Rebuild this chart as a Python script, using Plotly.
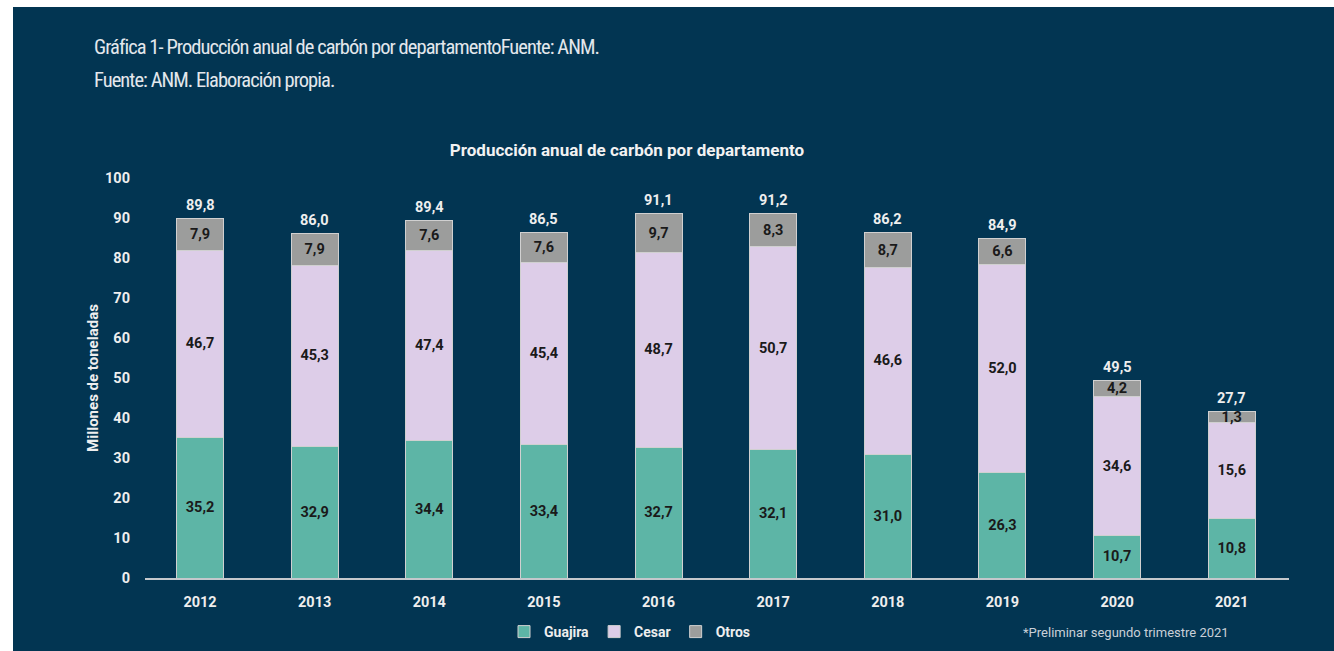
import plotly.graph_objects as go

# ---- data ----
years = ["2012", "2013", "2014", "2015", "2016", "2017", "2018", "2019", "2020", "2021"]
# bar heights as drawn (Millones de toneladas)
guajira = [35.2, 32.9, 34.4, 33.4, 32.7, 32.1, 31.0, 26.3, 10.7, 14.9]
cesar = [46.7, 45.3, 47.4, 45.4, 48.7, 50.7, 46.6, 52.0, 34.6, 23.9]
otros = [7.9, 7.9, 7.6, 7.6, 9.7, 8.3, 8.7, 6.6, 4.2, 2.8]
# printed labels
guajira_lbl = [35.2, 32.9, 34.4, 33.4, 32.7, 32.1, 31.0, 26.3, 10.7, 10.8]
cesar_lbl = [46.7, 45.3, 47.4, 45.4, 48.7, 50.7, 46.6, 52.0, 34.6, 15.6]
otros_lbl = [7.9, 7.9, 7.6, 7.6, 9.7, 8.3, 8.7, 6.6, 4.2, 1.3]
total_lbl = [89.8, 86.0, 89.4, 86.5, 91.1, 91.2, 86.2, 84.9, 49.5, 27.7]
y_ticks = [0, 10, 20, 30, 40, 50, 60, 70, 80, 90, 100]

NAVY = "#023552"
TEAL = "#5db5a6"
LAV = "#ddcde8"
GRAY = "#9c9d9c"
FONT = "Roboto"


def fmt(v):
    return f"{v:.1f}".replace(".", ",")


fig = go.Figure()
for name, vals, lbls, col in [
    ("Guajira", guajira, guajira_lbl, TEAL),
    ("Cesar", cesar, cesar_lbl, LAV),
    ("Otros", otros, otros_lbl, GRAY),
]:
    fig.add_trace(go.Bar(
        x=years, y=vals, name=name,
        marker=dict(color=col, line=dict(color="#d0d0d0", width=1)),
        text=[fmt(v) for v in lbls], textposition="inside",
        insidetextanchor="middle", constraintext="none",
        textfont=dict(family=FONT, size=14.5, color="#1a1a1a", weight="bold"),
        hoverinfo="skip",
    ))

tops = [g + c + o for g, c, o in zip(guajira, cesar, otros)]
for i, (t, lbl) in enumerate(zip(tops, total_lbl)):
    fig.add_annotation(xref="x", yref="y", x=i, y=t, text=fmt(lbl), showarrow=False,
                       yanchor="middle", yshift=13,
                       font=dict(family=FONT, size=14.5, color="#eeeeee", weight="bold"))

L, R, T, B = 145, 45, 178, 73
W = 1334 - L - R
H = 651 - T - B


def px(x):
    return (x - L) / W


def py(y):
    return (651 - B - y) / H


HDR = dict(family="Roboto", size=20.5, color="#e3e7ec")
COND = '<span style="font-stretch:75%;letter-spacing:-0.95px">{}</span>'
# header texts
fig.add_annotation(xref="paper", yref="paper", x=px(92), y=py(47), xanchor="left", yanchor="middle",
                   text=COND.format("Gráfica 1- Producción anual de carbón por departamentoFuente: ANM."),
                   showarrow=False, font=HDR)
fig.add_annotation(xref="paper", yref="paper", x=px(92), y=py(80), xanchor="left", yanchor="middle",
                   text=COND.format("Fuente: ANM. Elaboración propia."),
                   showarrow=False, font=HDR)
# footnote
fig.add_annotation(xref="paper", yref="paper", x=px(1231), y=py(632), xanchor="right", yanchor="middle",
                   text="*Preliminar segundo trimestre 2021", showarrow=False,
                   font=dict(family=FONT, size=13, color="#c9d0d8"))

# white frame strips
fig.add_shape(type="rect", xref="paper", yref="paper", x0=px(0), x1=px(1334), y0=py(7), y1=py(-2),
              fillcolor="white", line=dict(width=0), layer="above")
fig.add_shape(type="rect", xref="paper", yref="paper", x0=px(-2), x1=px(13), y0=py(653), y1=py(-2),
              fillcolor="white", line=dict(width=0), layer="above")

fig.update_layout(
    width=1334, height=651,
    barmode="stack", bargap=0.59,
    paper_bgcolor=NAVY, plot_bgcolor=NAVY,
    margin=dict(l=L, r=R, t=T, b=B, autoexpand=False),
    title=dict(text="<b>Producción anual de carbón por departamento</b>",
               x=627 / 1334, xanchor="center", xref="container",
               y=1 - 150 / 651, yanchor="middle", yref="container",
               font=dict(family=FONT, size=17, color="#f2f2f2")),
    uniformtext=dict(minsize=14.5, mode="show"),
    showlegend=True,
    legend=dict(orientation="h", x=px(630), xanchor="center", y=py(632), yanchor="middle",
                font=dict(family=FONT, size=14, color="#eeeeee", weight="bold"),
                itemwidth=30, traceorder="normal", bgcolor="rgba(0,0,0,0)",
                tracegroupgap=0),
    font=dict(family=FONT),
)
fig.update_xaxes(type="category", range=[-0.48, 9.5], showgrid=False, showline=True,
                 linecolor="#c4c8cc", linewidth=2, ticks="", ticklabelstandoff=10,
                 tickfont=dict(family=FONT, size=14.5, color="#eeeeee", weight="bold"))
fig.update_yaxes(range=[0, 100], tickvals=y_ticks, showgrid=False, zeroline=False, showline=False,
                 ticks="", ticklabelstandoff=14,
                 tickfont=dict(family=FONT, size=14.5, color="#eeeeee", weight="bold"),
                 title=dict(text="<b>Millones de toneladas</b>", standoff=2,
                            font=dict(family=FONT, size=15, color="#eeeeee")))

fig.write_html("out.html")
